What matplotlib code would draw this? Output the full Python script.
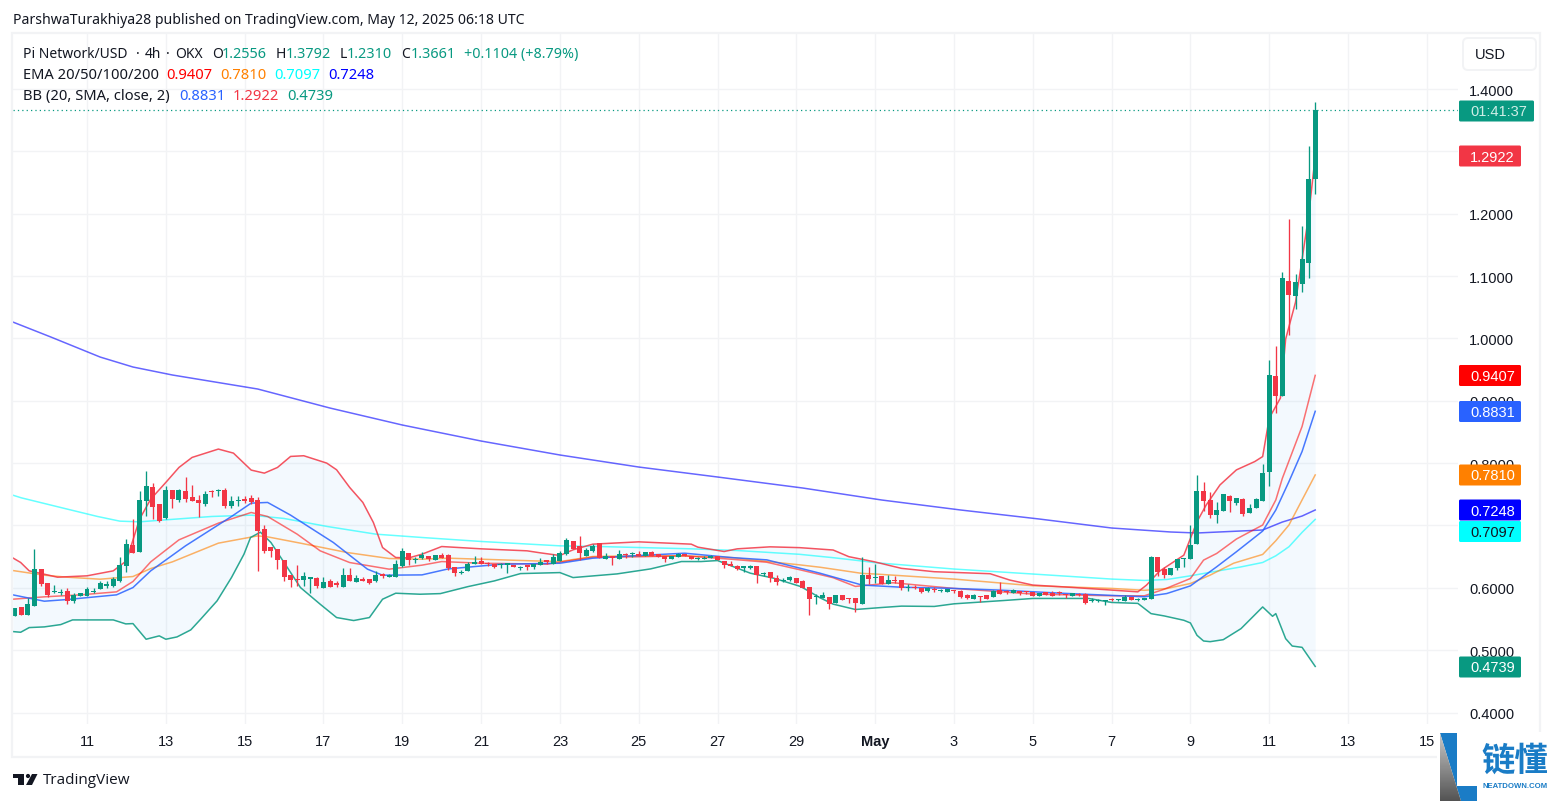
#!/usr/bin/env python
# -*- coding: utf-8 -*-
import numpy as np
import matplotlib
matplotlib.use("Agg")
import matplotlib.pyplot as plt
from matplotlib.patches import Rectangle, FancyBboxPatch, Polygon, Circle

# Candles, 4h, index 0 is 9 Apr 06:00 or so, index 11 sits on the "11" tick.
opens = [
    .5544, .5699, .5566, .5710, .6299, .6074, .5929, .5913, .5945, .5785,
    .5871, .5871, .5935, .5977, .6036, .6026, .6106, .6352, .6684, .6571,
    .7395, .7615, .7342, .7117, .7566, .7406, .7556, .7454, .7406, .7342,
    .7545, .7545, .7566, .7304, .7395, .7422, .7438, .7406, .6940, .6652,
    .6620, .6443, .6202, .6138, .6122, .6149, .6154, .5999, .6106, .6063,
    .6015, .6202, .6095, .6138, .6138, .6106, .6207, .6176, .6176, .6347,
    .6555, .6448, .6475, .6512, .6443, .6528, .6528, .6341, .6244, .6271,
    .6389, .6427, .6394, .6384, .6362, .6373, .6373, .6314, .6352, .6330,
    .6368, .6432, .6384, .6437, .6539, .6748, .6668, .6518, .6587, .6711,
    .6469, .6518, .6464, .6534, .6539, .6539, .6518, .6571, .6550, .6518,
    .6459, .6496, .6539, .6518, .6464, .6464, .6475, .6507, .6437, .6368,
    .6357, .6314, .6325, .6346, .6223, .6260, .6153, .6110, .6126, .6153,
    .6110, .6008, .5848, .5829, .5856, .5749, .5883, .5835, .5829, .5733,
    .6204, .6151, .6183, .6065, .6113, .6119, .6001, .6001, .5990, .5942,
    .5974, .5947, .5931, .5963, .5947, .5883, .5818, .5867, .5877, .5845,
    .5963, .5936, .5915, .5953, .5936, .5926, .5867, .5931, .5920, .5920,
    .5899, .5867, .5894, .5899, .5792, .5786, .5781, .5813, .5802, .5786,
    .5851, .5802, .5797, .5817, .6487, .6299, .6213, .6310, .6460, .6455,
    .6701, .7548, .7403, .7167, .7232, .7468, .7355, .7419, .7194, .7275,
    .7387, .785, .9396, .908, 1.092, 1.068, 1.088, 1.121, 1.2556,
]
highs = [
    .5683, .5699, .5844, .6620, .6299, .6074, .6042, .5977, .6004, .5913,
    .5913, .6020, .5994, .6111, .6106, .6181, .6502, .6780, .7101, .7556,
    .7866, .7679, .7342, .7636, .7566, .7583, .7775, .7647, .7486, .7556,
    .7572, .7583, .7593, .7465, .7476, .7465, .7486, .7449, .7005, .6652,
    .6620, .6443, .6202, .6363, .6250, .6160, .6170, .6170, .6149, .6117,
    .6325, .6325, .6213, .6181, .6138, .6277, .6234, .6229, .6438, .6636,
    .6566, .6502, .6571, .6512, .6523, .6555, .6539, .6341, .6287, .6410,
    .6512, .6491, .6416, .6384, .6405, .6384, .6373, .6352, .6352, .6384,
    .6475, .6443, .6539, .6593, .6796, .6748, .6829, .6636, .6705, .6711,
    .6555, .6518, .6603, .6555, .6571, .6598, .6571, .6587, .6550, .6518,
    .6512, .6555, .6539, .6518, .6496, .6507, .6534, .6507, .6437, .6427,
    .6368, .6346, .6368, .6346, .6260, .6260, .6207, .6164, .6185, .6153,
    .6126, .6008, .5907, .5926, .5856, .5877, .5883, .5835, .5829, .6488,
    .6328, .6387, .6183, .6204, .6183, .6119, .6054, .6044, .5990, .6006,
    .6006, .5974, .5985, .5963, .5963, .5893, .5893, .5867, .5877, .5963,
    .6097, .5963, .5974, .5953, .5953, .5926, .5920, .5931, .5942, .5953,
    .5899, .5910, .5920, .5910, .5835, .5824, .5808, .5835, .5824, .5883,
    .5851, .5835, .5834, .6503, .6487, .6331, .6310, .6455, .6471, .7001,
    .7805, .7693, .7532, .7371, .7500, .7489, .7435, .7435, .7339, .7435,
    .7982, .965, .988, 1.106, 1.191, 1.103, 1.180, 1.309, 1.3792,
]
lows = [
    .5544, .5566, .5566, .5710, .6031, .5860, .5913, .5881, .5737, .5764,
    .5871, .5871, .5924, .5977, .5994, .6015, .6095, .6261, .6555, .6571,
    .7155, .7101, .7058, .7101, .7278, .7379, .7369, .7390, .7133, .7315,
    .7449, .7476, .7278, .7278, .7310, .7358, .7342, .6266, .6555, .6502,
    .6309, .6111, .6010, .6031, .6031, .5919, .5999, .5999, .6010, .6010,
    .6015, .6106, .6090, .6106, .6063, .6095, .6159, .6176, .6176, .6336,
    .6363, .6395, .6464, .6432, .6443, .6475, .6287, .6185, .6223, .6271,
    .6389, .6384, .6352, .6314, .6325, .6234, .6330, .6282, .6287, .6303,
    .6368, .6384, .6384, .6437, .6528, .6620, .6448, .6507, .6582, .6475,
    .6469, .6368, .6464, .6480, .6491, .6518, .6518, .6518, .6496, .6421,
    .6459, .6486, .6507, .6464, .6443, .6464, .6475, .6448, .6314, .6357,
    .6287, .6250, .6303, .6078, .6196, .6089, .6046, .6089, .6116, .6073,
    .5992, .5564, .5740, .5829, .5668, .5749, .5797, .5749, .5604, .5733,
    .6054, .6070, .6054, .6065, .6081, .5958, .5953, .5979, .5915, .5926,
    .5926, .5936, .5931, .5915, .5840, .5813, .5813, .5770, .5818, .5845,
    .5899, .5899, .5915, .5877, .5899, .5861, .5867, .5883, .5861, .5883,
    .5840, .5867, .5867, .5733, .5770, .5776, .5722, .5781, .5792, .5786,
    .5797, .5781, .5797, .5817, .6186, .6165, .6213, .6283, .6326, .6455,
    .6701, .7232, .7114, .7033, .7232, .7221, .7323, .7146, .7194, .7275,
    .7387, .764, .880, .908, 1.006, 1.047, 1.075, 1.097, 1.2310,
]
closes = [
    .5683, .5566, .5737, .6299, .6058, .5881, .5945, .5929, .5785, .5881,
    .5913, .5977, .5956, .6074, .6047, .6138, .6363, .6700, .6555, .7406,
    .7631, .7299, .7074, .7566, .7422, .7572, .7422, .7390, .7358, .7502,
    .7534, .7556, .7315, .7390, .7406, .7390, .7374, .6914, .6593, .6587,
    .6448, .6170, .6127, .6127, .6186, .6160, .6026, .6090, .6015, .6052,
    .6202, .6117, .6154, .6111, .6074, .6202, .6197, .6202, .6379, .6587,
    .6448, .6459, .6528, .6459, .6523, .6475, .6314, .6234, .6255, .6389,
    .6400, .6384, .6384, .6330, .6373, .6384, .6330, .6325, .6341, .6384,
    .6410, .6421, .6491, .6566, .6764, .6620, .6555, .6609, .6673, .6475,
    .6512, .6475, .6539, .6523, .6550, .6518, .6571, .6518, .6496, .6459,
    .6512, .6545, .6507, .6464, .6469, .6475, .6512, .6448, .6362, .6357,
    .6303, .6346, .6335, .6207, .6234, .6153, .6094, .6121, .6169, .6073,
    .5992, .5821, .5863, .5883, .5743, .5877, .5797, .5824, .5749, .6204,
    .6135, .6162, .6065, .6119, .6103, .5990, .6011, .5990, .5931, .5990,
    .5963, .5963, .5985, .5953, .5851, .5829, .5877, .5856, .5818, .5953,
    .5899, .5926, .5963, .5920, .5926, .5861, .5920, .5883, .5861, .5910,
    .5888, .5910, .5883, .5749, .5802, .5797, .5808, .5802, .5813, .5845,
    .5797, .5813, .5834, .6487, .6256, .6213, .6310, .6455, .6471, .6680,
    .7548, .7392, .7167, .7242, .7500, .7392, .7435, .7178, .7285, .7419,
    .7837, .941, .908, 1.097, 1.070, 1.090, 1.127, 1.2556, 1.3661,
]

# Indicator lines: candle index, then price.
ema200_idx = [-.3, 5.5, 13, 18, 24, 37, 48, 59, 71, 83, 95, 107, 120, 132, 144,
              156, 167, 176, 180, 190, 193, 196, 198]
ema200 = [1.0263, 1.0022, .9701, .9541, .9413, .9188, .8883, .8611, .8354, .8130, .7937, .7777,
          .7600, .7408, .7248, .7103, .6959, .6895, .6879, .6927, .7055, .7151, .7248]

ema100_idx = [-.3, 1, 8, 12.6, 16, 19, 23, 30, 36, 41, 47.6, 55, 62, 71, 83, 89, 95, 103, 110,
              119.5, 124.6, 129, 131, 143, 155, 167, 172, 175.4, 179, 183, 186.5, 190,
              192, 194, 196, 198]
ema100 = [.7486, .7443, .7262, .7144, .7069, .7058, .7090, .7144, .7165, .7112, .6983, .6860,
          .6807, .6743, .6673, .6662, .6646, .6625, .6598, .6537, .6483, .6430, .6403, .6301,
          .6221, .6140, .6118, .6133, .6192, .6267, .6331, .6406, .6513, .6658, .6889, .7097]

ema50_idx = [-.3, 4.5, 8, 13, 18, 20.7, 24, 31, 37, 38.5, 43.5, 50.6, 57, 62, 66, 79, 83, 88, 94,
             102, 109, 119.5, 122.6, 129, 131, 143, 155, 167, 172, 175.4, 179, 182,
             185.6, 190, 192, 194, 196, 198]
ema50 = [.6277, .6202, .6170, .6138, .6181, .6309, .6416, .6716, .6833, .6817, .6716, .6566,
         .6470, .6459, .6475, .6432, .6421, .6502, .6512, .6512, .6486, .6368, .6330, .6231,
         .6221, .6140, .6033, .5990, .5960, .5988, .6069, .6203, .6395, .6535, .6755, .7007,
         .7409, .7810]

ema20_idx = [-.3, 4.5, 10, 15.5, 18, 20.7, 25, 31, 36, 38.5, 43, 46.5, 51, 57, 62, 65, 71, 78, 81,
             88, 94, 102, 109, 114.5, 119.5, 124.6, 128, 133.7, 143, 155, 167, 172, 175,
             179, 181, 183, 186, 190, 192, 193, 196, 198]
ema20 = [.5817, .5855, .5887, .5935, .6101, .6416, .6769, .7037, .7208, .7144, .6860, .6593,
         .6405, .6299, .6363, .6421, .6394, .6384, .6378, .6491, .6496, .6512, .6459, .6410,
         .6290, .6162, .6022, .6081, .5990, .5899, .5872, .5872, .5977, .6149, .6444, .6551,
         .6782, .7007, .7409, .7757, .8588, .9407]

bb_mid_idx = [-.3, 4.5, 8, 15.5, 18, 20.7, 26, 33, 36, 38.5, 42, 48.5, 53.7, 56, 62, 66, 74, 83,
              88, 94, 102, 109, 114.5, 122.6, 129, 134.7, 143, 150, 160, 172, 175.4, 179, 183,
              186, 190, 192, 194, 196, 198]
bb_mid = [.5887, .5785, .5812, .5887, .6004, .6272, .6673, .7144, .7358, .7369, .7165, .6727,
          .6299, .6202, .6207, .6303, .6378, .6394, .6475, .6512, .6555, .6486, .6448, .6234,
          .6044, .6011, .5990, .5963, .5910, .5856, .5908, .6031, .6337, .6578, .6910, .7248,
          .7703, .8186, .8831]

bb_up_idx = [-.3, .9, 2.2, 4.5, 6.5, 11, 15, 17, 19, 20.7, 23, 25, 27, 31, 33.3, 36, 38, 40, 42,
             44, 47.5, 49, 51, 53, 54.6, 56, 58, 60, 62, 65, 71, 78, 80, 83, 85, 88, 95, 103,
             104, 108, 110, 115, 119.5, 124.6, 127, 130.8, 135, 140, 148.5, 151.5, 155,
             161, 171, 172.3, 174.3, 178, 180, 181.4, 183.5, 186, 188.8, 190, 191, 192.7,
             193.5, 195, 196, 197, 198]
bb_up = [.6480, .6406, .6272, .6218, .6170, .6192, .6272, .6432, .7101, .7422, .7690, .7930,
         .8091, .8225, .8160, .7888, .7839, .7930, .8107, .8118, .8000, .7893, .7609, .7369,
         .7048, .6646, .6486, .6480, .6539, .6662, .6625, .6593, .6561, .6518, .6609, .6700,
         .6737, .6700, .6652, .6582, .6625, .6657, .6644, .6606, .6499, .6419, .6312, .6258,
         .6226, .6124, .6044, .6006, .5935, .6042, .6267, .6524, .7060, .7328, .7650, .7891,
         .8025, .8105, .8722, .9043, .999, 1.058, 1.127, 1.197, 1.2922]

bb_lo_idx = [-.3, .9, 2.2, 4.5, 7, 8.8, 15, 16.9, 18, 20, 22, 23, 24.7, 26.8, 28.3, 30.8, 33, 34.9,
             35.9, 37.4, 39, 41, 43.5, 46.5, 49, 51.6, 54, 56, 58, 61.7, 64.8, 69, 73, 77, 83,
             85, 91.7, 96.8, 101.5, 104.5, 107, 112, 115.6, 119.7, 122.6, 124.6, 128, 132,
             135, 140, 143, 150.7, 155, 163.5, 167, 171, 173, 175, 178, 179, 180, 181, 182,
             184, 186.7, 190, 191.5, 192, 193.5, 194.5, 196, 198]
bb_lo = [.5298, .5287, .5362, .5373, .5410, .5485, .5485, .5421, .5426, .5175, .5229, .5175,
         .5212, .5325, .5496, .5790, .6165, .6539, .6807, .6892, .6727, .6406, .6004, .5737,
         .5523, .5475, .5523, .5817, .5913, .5897, .5907, .6019, .6110, .6228, .6244, .6164,
         .6223, .6303, .6421, .6421, .6437, .6234, .6153, .6019, .5840, .5738, .5652, .5684,
         .5706, .5701, .5743, .5797, .5829, .5829, .5765, .5750, .5586, .5549, .5479, .5436,
         .5238, .5147, .5136, .5168, .5345, .5693, .5543, .5586, .5184, .5066, .5045, .4739]

price_ticks = [0.4, 0.5, 0.6, 0.7, 0.8, 0.9, 1.0, 1.1, 1.2, 1.3, 1.4]
date_ticks = [11, 23, 35, 47, 59, 71, 83, 95, 107, 119, 131, 143, 155, 167, 179, 191, 203, 215]
date_labels = ["11", "13", "15", "17", "19", "21", "23", "25", "27", "29", "May",
               "3", "5", "7", "9", "11", "13", "15"]

GREEN = "#089981"
RED = "#f23645"
BLUE = "#2962ff"
DARK = "#131722"
GRID = "#f2f3f5"
HEAD_FONT = "Noto Sans"
AXIS_FONT = "Liberation Sans"

W, H = 1553, 803
fig = plt.figure(figsize=(W / 100, H / 100), dpi=100, facecolor="white")

# price pane: pixels 13..1458 across, 35..725 down
left, right, top, bottom = 13, 1458, 35, 725
ax = fig.add_axes([left / W, 1 - bottom / H, (right - left) / W, (bottom - top) / H])
ax.set_xlim((left - 14.75) / 6.568, (right - 14.75) / 6.568)
ax.set_ylim(1.4 - (bottom - 90) / 623.5, 1.4 + (90 - top) / 623.5)

for s in ax.spines.values():
    s.set_visible(False)
ax.set_axisbelow(True)
ax.grid(True, color=GRID, lw=1.0)
ax.yaxis.tick_right()
ax.set_yticks(price_ticks)
ax.set_yticklabels(["%.4f" % p for p in price_ticks], fontsize=10.5, family=AXIS_FONT, color=DARK)
ax.set_xticks(date_ticks)
ax.set_xticklabels(date_labels, fontsize=10.5, family=AXIS_FONT, color=DARK)
ax.get_xticklabels()[10].set_fontweight("bold")
ax.tick_params(axis="y", length=0, pad=8)
ax.tick_params(axis="x", length=0, pad=7.5)

# bollinger fill
fill_x = np.linspace(-0.3, 198, 800)
ax.fill_between(fill_x, np.interp(fill_x, bb_up_idx, bb_up), np.interp(fill_x, bb_lo_idx, bb_lo),
                color="#2196f3", alpha=0.05, lw=0, zorder=1)

ax.plot(ema200_idx, ema200, color="#0000ff", lw=1.1, alpha=0.6, zorder=2)
ax.plot(ema100_idx, ema100, color="#00ffff", lw=1.1, alpha=0.6, zorder=2)
ax.plot(ema50_idx, ema50, color="#ff8000", lw=1.1, alpha=0.6, zorder=2)
ax.plot(ema20_idx, ema20, color="#ff0000", lw=1.1, alpha=0.55, zorder=2)
ax.plot(bb_mid_idx, bb_mid, color=BLUE, lw=1.1, alpha=0.85, zorder=2.1)
ax.plot(bb_up_idx, bb_up, color=RED, lw=1.1, alpha=0.85, zorder=2.1)
ax.plot(bb_lo_idx, bb_lo, color=GREEN, lw=1.1, alpha=0.85, zorder=2.1)

# candles
o = np.array(opens)
c = np.array(closes)
idx = np.arange(len(o))
colors = np.where(c >= o, GREEN, RED).tolist()
ax.vlines(idx, lows, highs, colors=colors, lw=0.95, zorder=3)
ax.bar(idx, np.maximum(np.abs(c - o), 0.0017), bottom=np.minimum(o, c), width=0.76,
       color=colors, lw=0, zorder=3.1)

ax.axhline(closes[-1], color=GREEN, ls=(0, (1, 2.5)), lw=0.9, zorder=3.2)

# everything around the chart, in pixel coordinates
over = fig.add_axes([0, 0, 1, 1], zorder=10)
over.set_xlim(0, W)
over.set_ylim(H, 0)
over.axis("off")
over.patch.set_alpha(0)

over.add_patch(Rectangle((12, 34), 1528, 724, fc="none", ec=GRID, lw=1.6))


def head(x, y, text, color=DARK, size=10.6):
    over.text(x, y + 1.5, text, color=color, fontsize=size, family=HEAD_FONT, va="center", ha="left")


head(13, 19, "ParshwaTurakhiya28 published on TradingView.com, May 12, 2025 06:18 UTC", size=10.15)
for x, part in [(23, "Pi Network/USD"), (136, "·"), (145, "4h"), (166, "·"), (175, "OKX")]:
    head(x, 53, part, size=10.0)
for x, name, x2, val in [(212, "O", 222, "1.2556"), (275.5, "H", 286, "1.3792"), (340, "L", 346.5, "1.2310"),
                         (401, "C", 410.5, "1.3661")]:
    head(x, 53, name, size=10.0)
    head(x2, 53, val, GREEN, size=10.4)
head(464, 53, "+0.1104 (+8.79%)", GREEN, size=10.3)
head(23, 74, "EMA 20/50/100/200")
for x, val, col in [(166, "0.9407", "#ff0000"), (220, "0.7810", "#ff8000"), (274, "0.7097", "#00ffff"),
                    (328, "0.7248", "#0000ff")]:
    head(x, 74, val, col)
head(23, 95, "BB (20, SMA, close, 2)")
for x, val, col in [(179, "0.8831", BLUE), (233, "1.2922", RED), (287, "0.4739", GREEN)]:
    head(x, 95, val, col)

# USD button
over.add_patch(FancyBboxPatch((1466, 42), 67, 26, boxstyle="round,pad=3,rounding_size=5",
                              fc="white", ec=GRID, lw=1.4))
over.text(1475, 55, "USD", fontsize=10.5, family=AXIS_FONT, color=DARK, va="center")


def price_label(y, text, bg, fg="white", x1=1521):
    over.add_patch(FancyBboxPatch((1459, y - 10.5), x1 - 1459, 21, boxstyle="round,pad=0,rounding_size=1.5",
                                  fc=bg, ec="none"))
    over.text(1470, y + 0.5, text, color=fg, fontsize=10.5, family=AXIS_FONT, va="center", ha="left")


price_label(112, "01:41:37", GREEN, "#cfeee7", x1=1534)
price_label(157, "1.2922", RED)
price_label(376.5, "0.9407", "#ff0000")
price_label(412.5, "0.8831", BLUE)
price_label(476, "0.7810", "#ff8000")
price_label(511, "0.7248", "#0000ff")
price_label(532.5, "0.7097", "#00ffff", DARK)
price_label(668, "0.4739", GREEN)

# TradingView mark
over.add_patch(Polygon([(13, 775), (24, 775), (24, 786), (18, 786), (18, 779), (13, 779)], fc=DARK, ec="none"))
over.add_patch(Circle((28, 777), 2.1, fc=DARK, ec="none"))
over.add_patch(Polygon([(32, 775), (37.5, 775), (32, 786), (26, 786)], fc=DARK, ec="none"))
over.text(43, 781, "TradingView", fontsize=11, family="Open Sans", color=DARK, va="center")

# watermark bottom right
over.add_patch(Rectangle((1437, 733), W - 1437, H - 733, fc="white", ec="none"))
over.add_patch(Polygon([(1440, 734), (1457, 734), (1457, 787), (1477, 787), (1477, 802), (1461, 802)],
                       fc="#1a7cc6", ec="none"))
tri = Polygon([(1440, 734), (1440, 802), (1461, 802)], fc="none", ec="none", transform=over.transData)
over.add_patch(tri)
grad = np.linspace(0.78, 0.33, 64).reshape(-1, 1)
img = over.imshow(grad, cmap="gray", vmin=0, vmax=1, extent=(1440, 1461, 802, 734), aspect="auto", zorder=3)
img.set_clip_path(tri)
over.set_xlim(0, W)
over.set_ylim(H, 0)
over.text(1515, 761, "链懂", fontsize=24, family=["Noto Sans CJK SC", "DejaVu Sans"], color="#1a7cc6",
          ha="center", va="center", fontweight="bold")
over.text(1515.5, 787, "NEATDOWN.COM", fontsize=5.6, family="Liberation Sans", color="#1a7cc6",
          ha="center", va="center", fontweight="bold")

fig.savefig("out.png", dpi=100, facecolor="white")
